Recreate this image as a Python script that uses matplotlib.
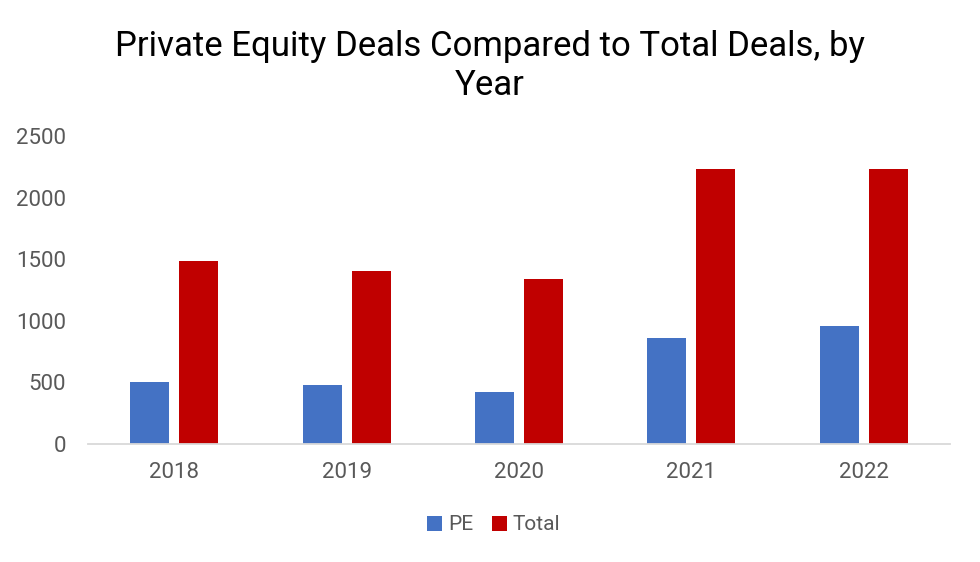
import matplotlib
matplotlib.use("Agg")
import matplotlib.pyplot as plt
import numpy as np

years = ["2018", "2019", "2020", "2021", "2022"]
pe_deals = [505, 482, 420, 858, 955]
total_deals = [1484, 1408, 1340, 2232, 2232]

plt.rcParams['font.family'] = ['Roboto', 'DejaVu Sans']

fig = plt.figure(figsize=(9.8, 5.62), dpi=100)
ax = fig.add_axes([88 / 980, 1 - 444 / 562, 862 / 980, 308 / 562])

x = np.arange(len(years))
width = 0.226
offset = 0.142
ax.bar(x - offset, pe_deals, width, color="#4472C4", label="PE")
ax.bar(x + offset, total_deals, width, color="#C00000", label="Total")

ax.set_xlim(-0.5, len(years) - 0.5)
ax.set_ylim(0, 2500)
ax.set_yticks(np.arange(0, 2501, 500))
ax.set_xticks(x)
ax.set_xticklabels(years)

for s in ["top", "right", "left"]:
    ax.spines[s].set_visible(False)
ax.spines["bottom"].set_color("#D9D9D9")
ax.spines["bottom"].set_linewidth(1.3)
ax.tick_params(axis="both", length=0, colors="#595959", labelsize=16)
ax.tick_params(axis="x", pad=13)
ax.tick_params(axis="y", pad=16)

fig.text(0.5, 1 - 66 / 562, "Private Equity Deals Compared to Total Deals, by\nYear",
         ha="center", va="center", fontsize=25, color="black", linespacing=1.25)

fig.legend(loc="center", bbox_to_anchor=(494 / 980, 1 - 525 / 562), ncol=2, frameon=False,
           fontsize=15, handlelength=0.7, handleheight=0.7, handletextpad=0.3,
           columnspacing=0.9, labelcolor="#595959")

fig.savefig("out.png", dpi=100)
